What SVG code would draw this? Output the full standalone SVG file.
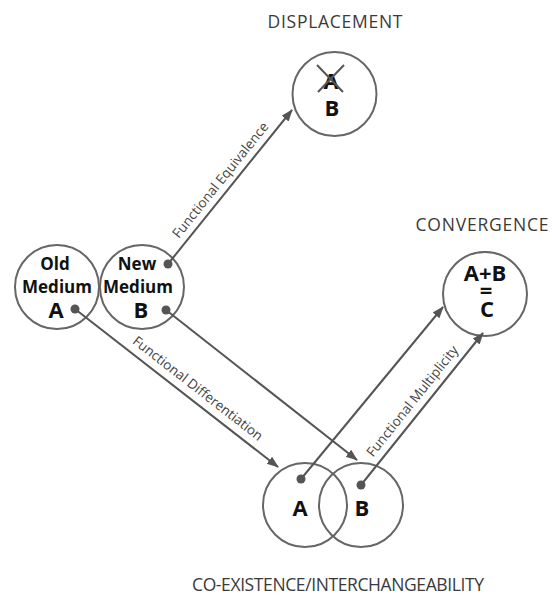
<svg xmlns="http://www.w3.org/2000/svg" width="552" height="599" viewBox="0 0 552 599">
<style>
.c{fill:none;stroke:#666;stroke-width:2}
.t{font-family:"Open Sans","Noto Sans",sans-serif;font-size:17.5px;fill:#3a3a3a;text-anchor:middle}
.b{font-family:"Open Sans","Noto Sans",sans-serif;font-weight:bold;fill:#111;text-anchor:middle}
.m{font-size:17px}
.g{font-size:22px}
.l{font-family:"Open Sans","Noto Sans",sans-serif;font-size:13.5px;fill:#444;text-anchor:middle}
.a{fill:none;stroke:#555;stroke-width:2;marker-end:url(#ah)}
.d{fill:#555}
</style>
<defs>
<marker id="ah" markerUnits="userSpaceOnUse" markerWidth="12" markerHeight="10" refX="11" refY="4.5" orient="auto">
<path d="M0,0 L12,4.5 L0,9 z" fill="#555"/>
</marker>
</defs>
<rect width="552" height="599" fill="#fff"/>
<g id="old">
<circle class="c" cx="57" cy="287" r="42"/>
<text class="b"><tspan class="m" x="55" y="270">Old</tspan><tspan class="m" x="57" y="293">Medium</tspan><tspan class="g" x="56" y="318">A</tspan></text>
</g>
<g id="new">
<circle class="c" cx="142" cy="287" r="42"/>
<text class="b"><tspan class="m" x="137" y="270">New</tspan><tspan class="m" x="138" y="293">Medium</tspan><tspan class="g" x="141" y="318">B</tspan></text>
</g>
<g id="displacement">
<text class="t" x="335" y="28" textLength="135">DISPLACEMENT</text>
<circle class="c" cx="334.5" cy="94" r="42"/>
<text class="b"><tspan class="g" x="331" y="89">A</tspan><tspan class="g" x="332" y="116">B</tspan></text>
<line x1="317" y1="65" x2="343" y2="92" stroke="#555" stroke-width="2"/>
<line x1="344" y1="65" x2="318" y2="92" stroke="#555" stroke-width="2"/>
</g>
<g id="convergence">
<text class="t" x="482" y="231" textLength="133">CONVERGENCE</text>
<circle class="c" cx="485" cy="294" r="42"/>
<text class="b"><tspan class="g" x="485" y="281">A+B</tspan><tspan class="g" x="486" y="298">=</tspan><tspan class="g" x="487" y="317">C</tspan></text>
</g>
<g id="coexistence">
<circle class="c" cx="305" cy="505" r="42"/>
<circle class="c" cx="361" cy="505" r="42"/>
<text class="b"><tspan class="g" x="300" y="516">A</tspan><tspan class="g" x="362" y="516">B</tspan></text>
<text class="t" x="338" y="591" textLength="292">CO-EXISTENCE/INTERCHANGEABILITY</text>
</g>
<g id="connectors">
<line class="a" x1="168" y1="264" x2="292" y2="110"/>
<line class="a" x1="75" y1="309" x2="278" y2="467"/>
<line class="a" x1="166" y1="310" x2="357" y2="460"/>
<line class="a" x1="301" y1="479" x2="443" y2="307"/>
<line class="a" x1="361" y1="485" x2="483" y2="333"/>
<circle class="d" cx="168" cy="264" r="4.5"/>
<circle class="d" cx="75" cy="309" r="4.5"/>
<circle class="d" cx="166" cy="310" r="4.5"/>
<circle class="d" cx="301" cy="479" r="4.5"/>
<circle class="d" cx="361" cy="485" r="4.5"/>
<text class="l" transform="translate(224,183) rotate(-51.2)">Functional Equivalence</text>
<text class="l" transform="translate(195,392) rotate(37.9)">Functional Differentiation</text>
<text class="l" transform="translate(416,404) rotate(-51.3)">Functional Multiplicity</text>
</g>
</svg>
